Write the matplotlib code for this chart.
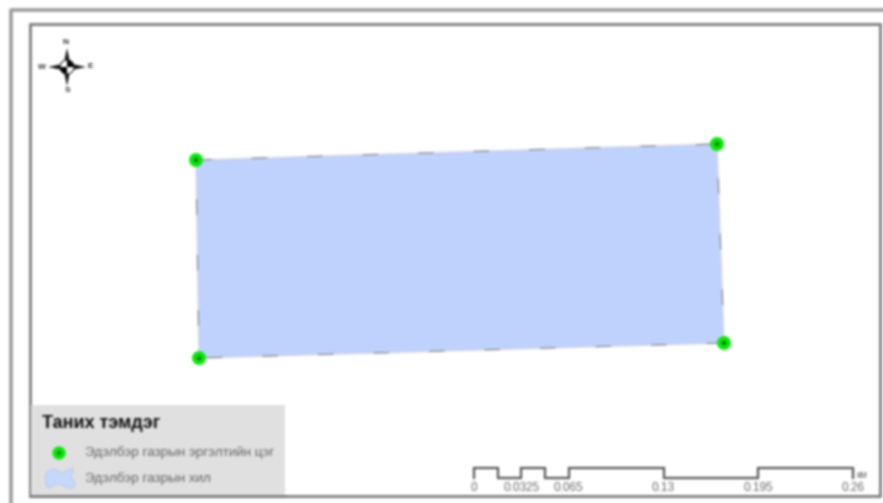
import matplotlib
matplotlib.use('Agg')
import numpy as np
import matplotlib.pyplot as plt
from matplotlib.patches import Polygon, Rectangle, PathPatch, Wedge
from matplotlib.path import Path

plt.rcParams['font.family'] = ['Liberation Sans', 'DejaVu Sans']

# corners of the area, in pixels of the picture
corner_x = [196, 717, 724, 199]
corner_y = [160, 144, 343, 358]

legend_title = "Таних тэмдэг"
legend_labels = ["Эдэлбэр газрын эргэлтийн цэг", "Эдэлбэр газрын хил"]

# scale bar
scale_values = [0, 0.01625, 0.0325, 0.04875, 0.065, 0.13, 0.195, 0.26]
scale_ticks = [0, 0.0325, 0.065, 0.13, 0.195, 0.26]
scale_labels = ["0", "0.0325", "0.065", "0.13", "0.195", "0.26"]
scale_unit = "км"

compass_letters = ["N", "E", "S", "W"]

fig = plt.figure(figsize=(8.83, 5.03), dpi=100)
ax = fig.add_axes([0, 0, 1, 1])
ax.set_xlim(0, 883)
ax.set_ylim(503, 0)
ax.axis('off')

# frames
ax.plot([11, 11, 883], [503, 10, 10], color='#9c9c9c', lw=2.6)
ax.add_patch(Rectangle((30, 24), 850, 472, fc='white', ec='#7c7c7c', lw=2))

# area
pts = list(zip(corner_x, corner_y))
ax.add_patch(Polygon(pts, closed=True, fc='#bed2fd', ec='#d5d5e5', lw=1, zorder=2))
ax.add_patch(Polygon(pts, closed=True, fc='none', ec='#808080', lw=0.8,
                     ls=(0, (14, 36)), zorder=3))
ax.scatter(corner_x, corner_y, s=100, c='#06e806', edgecolors='none', zorder=4)
ax.scatter(corner_x, corner_y, s=8, c='#0a5a0a', edgecolors='none', zorder=5)

# legend
ax.add_patch(Rectangle((31, 405), 254, 91, fc='#e0e0e0', ec='none', zorder=2))
ax.plot([30, 285], [496, 496], color='#7c7c7c', lw=2, zorder=3)
ax.text(42, 423, legend_title, fontsize=13, fontweight='bold', color='#111111',
        va='center', ha='left', zorder=4)
ax.scatter([59], [453], s=90, c='#06e806', edgecolors='none', zorder=4)
ax.scatter([59], [453], s=6, c='#0a5a0a', edgecolors='none', zorder=5)
ax.text(85, 453, legend_labels[0], fontsize=9.7, color='#666666', va='center', zorder=4)
ax.text(85, 479, legend_labels[1], fontsize=9.7, color='#666666', va='center', zorder=4)
blob = Path([(45, 476), (48, 468), (56, 468), (60, 472),
             (64, 474), (68, 470), (71, 468),
             (75, 468), (71, 475), (72, 478),
             (74, 481), (78, 486), (72, 488),
             (66, 489), (62, 484), (58, 484),
             (54, 485), (50, 489), (47, 487),
             (44, 485), (46, 481), (45, 476)],
            [Path.MOVETO] + [Path.CURVE4] * 21)
ax.add_patch(PathPatch(blob, fc='#c5d7fb', ec='#b5c6e6', lw=0.5, zorder=4))

# scale bar drawn from its values
x0, x1 = 474, 853
def to_x(v):
    return x0 + v * (x1 - x0) / scale_values[-1]

sx, sy = [], []
top, bottom = 468, 478
for i in range(len(scale_values) - 1):
    lev = top if i % 2 == 0 else bottom
    sx += [to_x(scale_values[i]), to_x(scale_values[i + 1])]
    sy += [lev, lev]
sx = [sx[0]] + sx + [sx[-1]]
sy = [bottom] + sy + [bottom]
ax.plot(sx, sy, color='#555555', lw=1.6, solid_joinstyle='miter', zorder=3)
for v, lab in zip(scale_ticks, scale_labels):
    ax.text(to_x(v), 488, lab, fontsize=8.5, color='#666666', ha='center', va='center')
ax.text(856, 475, scale_unit, fontsize=7, color='#666666', ha='left', va='center')

# compass
cx, cy = 67, 67
for dx, dy in [(0, -19), (0, 19), (-19, 0), (19, 0)]:
    side_x, side_y = (4, 0) if dx == 0 else (0, 4)
    ax.add_patch(Polygon([(cx - side_x, cy - side_y), (cx + dx, cy + dy), (cx + side_x, cy + side_y)],
                         fc='#111111', ec='none', zorder=3))
ax.add_patch(Wedge((cx, cy), 7, 0, 360, fc='white', ec='#222222', lw=0.8, zorder=4))
# y axis is flipped, so the angles run clockwise on screen
ax.add_patch(Wedge((cx, cy), 7, 270, 360, fc='#000000', ec='none', zorder=5))
ax.add_patch(Wedge((cx, cy), 7, 90, 180, fc='#000000', ec='none', zorder=5))
letter_dx = [-1, 23, 1, -25]
letter_dy = [-25, -1, 23, 0]
for s, dx, dy in zip(compass_letters, letter_dx, letter_dy):
    ax.text(cx + dx, cy + dy, s, fontsize=6, fontweight='bold', color='#333333', ha='center', va='center')

# the reference is a soft, upscaled image: soften the render the same way
fig.canvas.draw()
img = np.asarray(fig.canvas.buffer_rgba())[:, :, :3].astype(float)
kernel = np.array([1, 2, 3, 2, 1], dtype=float)
kernel /= kernel.sum()
for axis in (0, 1):
    img = np.apply_along_axis(lambda m: np.convolve(np.pad(m, 2, mode='edge'), kernel, mode='valid'), axis, img)
plt.imsave('out.png', img.round().astype(np.uint8))
